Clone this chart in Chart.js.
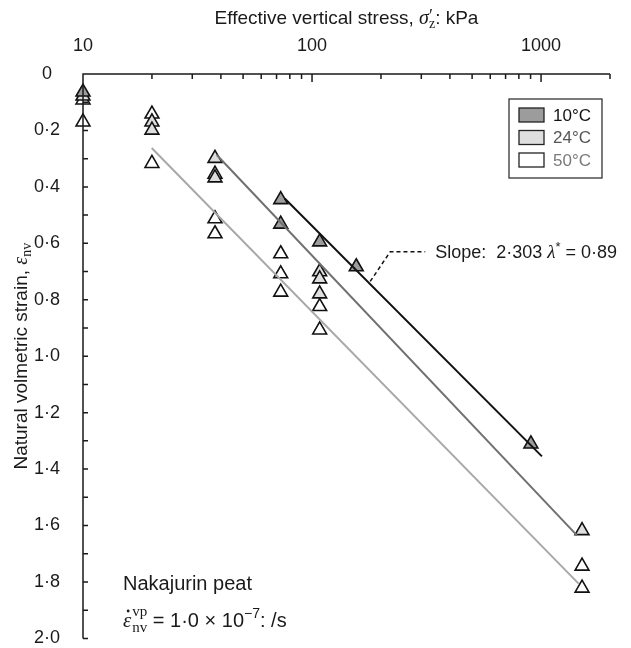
<!DOCTYPE html>
<html>
<head>
<meta charset="utf-8">
<script src="https://cdn.jsdelivr.net/npm/chart.js@4"></script>
<style>
  html, body { margin: 0; padding: 0; background: #fff; }
  #wrap { width: 631px; height: 648px; }
</style>
</head>
<body>
<div id="wrap"><canvas id="chart" width="631" height="648"></canvas></div>
<script>
// ========== DATA ==========
const temps = ['10°C', '24°C', '50°C'];

// measured points (stress kPa, natural volumetric strain)
const stress10 = [10, 73, 73, 108, 156, 903];
const strain10 = [0.064, 0.445, 0.532, 0.595, 0.683, 1.311];

const stress24 = [10, 20, 20, 37.7, 37.7, 37.7, 108, 108, 108, 1510];
const strain24 = [0.078, 0.170, 0.199, 0.299, 0.355, 0.368, 0.701, 0.726, 0.779, 1.618];

const stress50 = [10, 10, 20, 20, 37.7, 37.7, 73, 73, 73, 108, 108, 1510, 1510];
const strain50 = [0.092, 0.170, 0.142, 0.317, 0.513, 0.566, 0.637, 0.708, 0.773, 0.824, 0.907, 1.744, 1.822];

// normal compression lines
const fitStress10 = [76, 1009];
const fitStrain10 = [0.441, 1.355];
const fitStress24 = [38.4, 1435];
const fitStrain24 = [0.287, 1.635];
const fitStress50 = [19.95, 1459];
const fitStrain50 = [0.262, 1.806];

// leader from the 10°C line to the slope note
const leaderStress = [179.5, 219.5, 312];
const leaderStrain = [0.735, 0.630, 0.630];

const xTickLabels = [10, 100, 1000];
const yTickStep = 0.2;

// ========== STYLE ==========
const SANS = '"Liberation Sans", Arial, sans-serif';
const SERIF = '"Liberation Serif", "DejaVu Serif", serif';
const INK = '#1a1a1a';
const fills = ['#9c9c9c', '#dedede', '#ffffff'];
const lineColors = ['#111111', '#707070', '#a8a8a8'];
const legendText = ['#111111', '#555555', '#7a7a7a'];

function pts(xs, ys) {
  return xs.map((x, i) => ({ x: x, y: ys[i] }));
}

function pointSet(label, xs, ys, fill) {
  return {
    label: label,
    data: pts(xs, ys),
    pointStyle: 'triangle',
    pointRadius: 8,
    pointHoverRadius: 8,
    backgroundColor: fill,
    borderColor: '#111',
    borderWidth: 1.6,
    showLine: false,
    clip: false,
    order: 1
  };
}

function lineSet(xs, ys, color, dash) {
  return {
    label: '',
    data: pts(xs, ys),
    showLine: true,
    borderColor: color,
    borderWidth: dash ? 1.5 : 2,
    borderDash: dash || [],
    pointRadius: 0,
    pointHoverRadius: 0,
    fill: false,
    clip: false,
    order: 0
  };
}

// text made of runs: [text, font, dy, advance]
function runsWidth(ctx, runs) {
  let w = 0;
  runs.forEach(r => {
    ctx.font = r[1];
    if (r[3] !== false) w += ctx.measureText(r[0]).width;
  });
  return w;
}

function drawRuns(ctx, x, y, runs, align) {
  let cx = align === 'center' ? x - runsWidth(ctx, runs) / 2 : x;
  runs.forEach(r => {
    ctx.font = r[1];
    ctx.fillText(r[0], cx, y + (r[2] || 0));
    if (r[3] !== false) cx += ctx.measureText(r[0]).width;
  });
  return cx;
}

// ========== AXES, TITLES, LEGEND, NOTES ==========
const framePlugin = {
  id: 'frame',
  afterDraw(chart) {
    const ctx = chart.ctx;
    const a = chart.chartArea;
    const xs = chart.scales.x;
    const ys = chart.scales.y;
    ctx.save();

    // axis lines with inward ticks
    ctx.strokeStyle = INK;
    ctx.lineWidth = 1.5;
    ctx.beginPath();
    ctx.moveTo(a.left, a.bottom);
    ctx.lineTo(a.left, a.top);
    ctx.lineTo(a.right, a.top);
    [10, 100, 1000].forEach(d => {
      for (let m = 1; m <= 9; m++) {
        const v = d * m;
        if (v > xs.max) break;
        const px = xs.getPixelForValue(v);
        ctx.moveTo(px, a.top);
        ctx.lineTo(px, a.top + (m === 1 ? 8 : 5));
      }
    });
    for (let i = 1; i <= 20; i++) {
      const py = ys.getPixelForValue(i / 10);
      ctx.moveTo(a.left, py);
      ctx.lineTo(a.left + 5, py);
    }
    ctx.stroke();

    ctx.fillStyle = INK;
    ctx.textBaseline = 'alphabetic';

    // top axis title
    drawRuns(ctx, (a.left + a.right) / 2, 24, [
      ['Effective vertical stress, ', '19px ' + SANS],
      ['σ', 'italic 20px ' + SERIF],
      ['′', '18px ' + SERIF, -2, false],
      ['z', '14px ' + SERIF, 4],
      [': kPa', '19px ' + SANS]
    ], 'center');

    // left axis title
    ctx.save();
    ctx.translate(21, (a.top + a.bottom) / 2);
    ctx.rotate(-Math.PI / 2);
    drawRuns(ctx, 0, 6, [
      ['Natural volmetric strain, ', '19px ' + SANS],
      ['ε', 'italic 20px ' + SERIF],
      ['nv', '14px ' + SERIF, 4]
    ], 'center');
    ctx.restore();

    // legend box
    const lw = 93, lh = 79;
    const lx = a.right - 8 - lw, ly = a.top + 25;
    ctx.lineWidth = 1.3;
    ctx.strokeStyle = '#333';
    ctx.strokeRect(lx, ly, lw, lh);
    temps.forEach((t, i) => {
      const ry = ly + 9 + i * 22.5;
      ctx.fillStyle = fills[i];
      ctx.fillRect(lx + 10, ry, 25, 14);
      ctx.strokeStyle = '#222';
      ctx.strokeRect(lx + 10, ry, 25, 14);
      ctx.fillStyle = legendText[i];
      ctx.font = '17px ' + SANS;
      ctx.textBaseline = 'middle';
      ctx.fillText(t, lx + 44, ry + 8);
    });
    ctx.textBaseline = 'alphabetic';
    ctx.fillStyle = INK;

    // slope note at the end of the leader
    const nx = xs.getPixelForValue(leaderStress[2]) + 10;
    const ny = ys.getPixelForValue(leaderStrain[2]) + 6;
    drawRuns(ctx, nx, ny, [
      ['Slope:  2·303 ', '18px ' + SANS],
      ['λ', 'italic 19px ' + SERIF],
      ['*', '13px ' + SANS, -7],
      [' = 0·89', '18px ' + SANS]
    ]);

    // material and strain rate note
    ctx.font = '20px ' + SANS;
    ctx.fillText('Nakajurin peat', 123, 590);
    const ex = 123, ey = 627;
    ctx.font = 'italic 21px ' + SERIF;
    const ew = ctx.measureText('ε').width;
    ctx.fillText('ε', ex, ey);
    ctx.beginPath();
    ctx.arc(ex + ew / 2 + 1, ey - 16, 1.4, 0, Math.PI * 2);
    ctx.fill();
    drawRuns(ctx, ex + ew + 1, ey, [
      ['vp', '15px ' + SERIF, -11, false],
      ['nv', '15px ' + SERIF, 5],
      [' = 1·0 × 10', '20px ' + SANS],
      ['−7', '14px ' + SANS, -9],
      [': /s', '20px ' + SANS]
    ]);

    ctx.restore();
  }
};

// ========== CHART ==========
const ctx = document.getElementById('chart').getContext('2d');
new Chart(ctx, {
  type: 'scatter',
  data: {
    datasets: [
      pointSet(temps[0], stress10, strain10, fills[0]),
      pointSet(temps[1], stress24, strain24, fills[1]),
      pointSet(temps[2], stress50, strain50, fills[2]),
      lineSet(fitStress10, fitStrain10, lineColors[0]),
      lineSet(fitStress24, fitStrain24, lineColors[1]),
      lineSet(fitStress50, fitStrain50, lineColors[2]),
      lineSet(leaderStress, leaderStrain, '#111', [4, 3])
    ]
  },
  options: {
    responsive: false,
    animation: false,
    devicePixelRatio: 1,
    layout: { padding: { top: 0, left: 0, right: 21, bottom: 9 } },
    plugins: {
      legend: { display: false },
      tooltip: { enabled: false }
    },
    scales: {
      x: {
        type: 'logarithmic',
        position: 'top',
        min: 10,
        max: 2000,
        grid: { display: false },
        border: { display: false },
        afterBuildTicks: s => { s.ticks = xTickLabels.map(v => ({ value: v, major: true })); },
        afterFit: s => { s.height = 74; s.paddingLeft = 0; s.paddingRight = 0; },
        ticks: {
          color: INK,
          padding: 9,
          maxRotation: 0,
          font: { family: SANS, size: 18 },
          callback: v => String(v)
        }
      },
      y: {
        type: 'linear',
        reverse: true,
        min: 0,
        max: 2,
        grid: { display: false },
        border: { display: false },
        afterFit: s => { s.width = 83; s.paddingTop = 0; s.paddingBottom = 0; },
        ticks: {
          stepSize: yTickStep,
          color: INK,
          padding: 15,
          crossAlign: 'center',
          font: { family: SANS, size: 18 },
          callback: v => v === 0 ? '0' : v.toFixed(1).replace('.', '·')
        }
      }
    }
  },
  plugins: [framePlugin]
});
</script>
</body>
</html>
